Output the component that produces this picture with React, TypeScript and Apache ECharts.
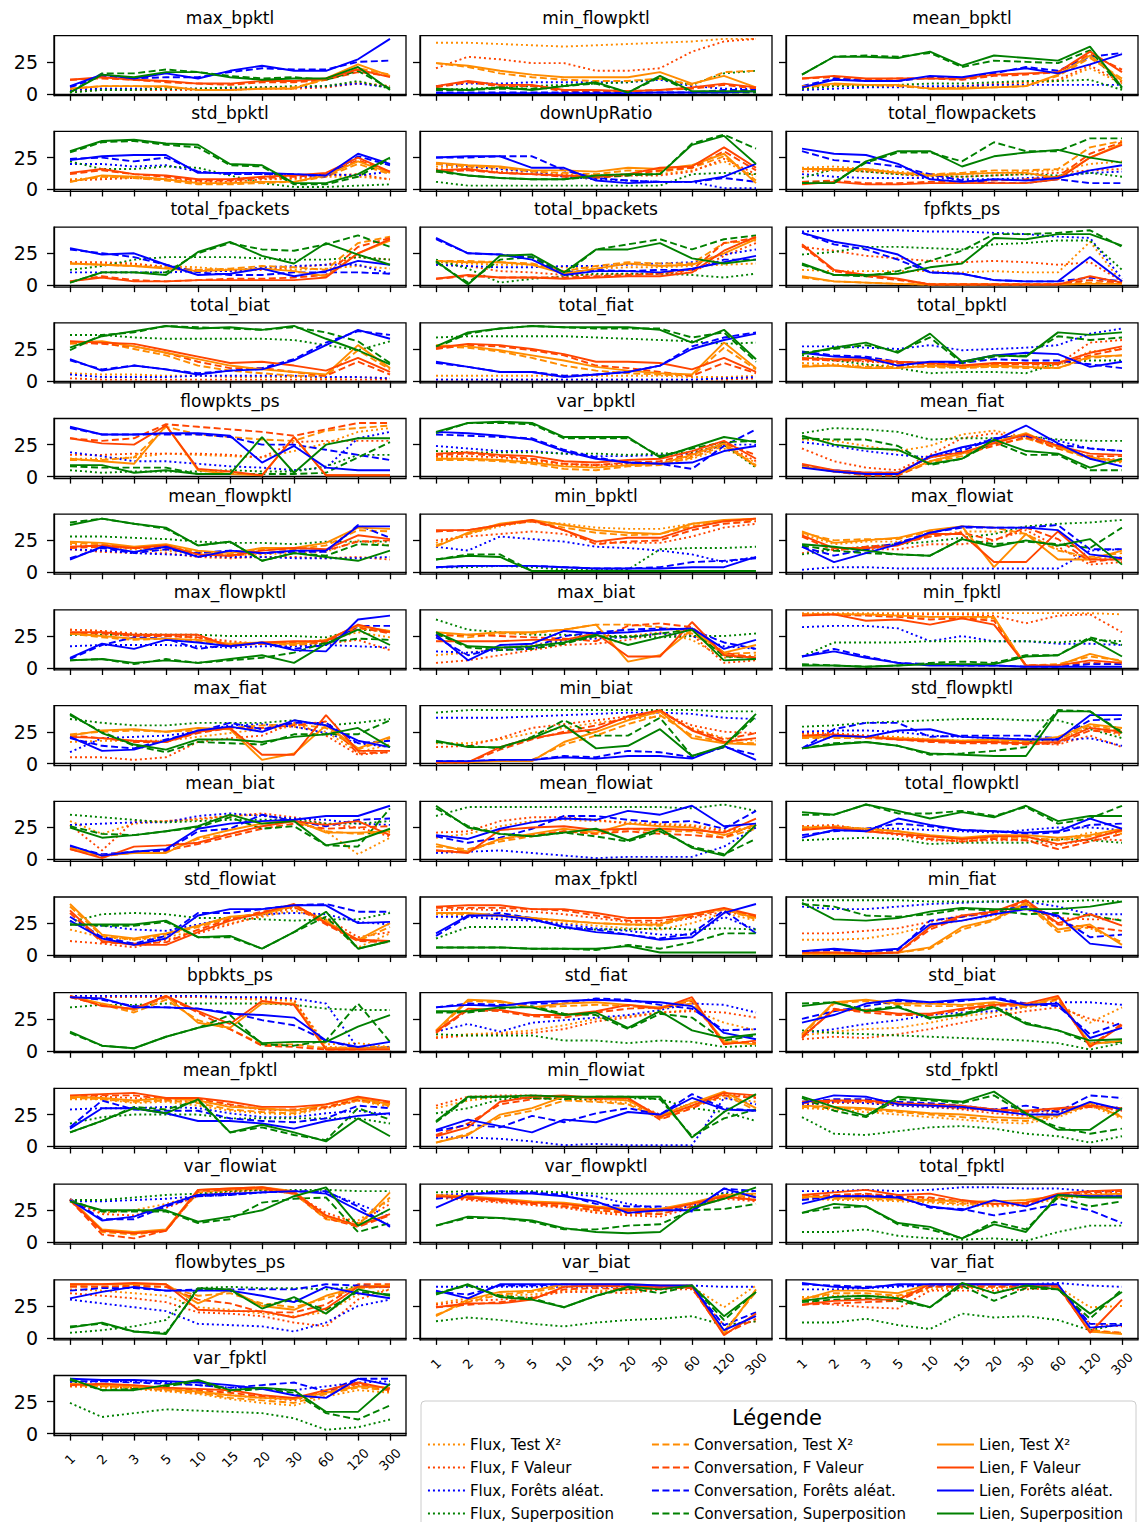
import React, { useEffect, useRef } from 'react';
import * as echarts from 'echarts';

// ---------- categories / labels ----------
const categories = ['1', '2', '3', '5', '10', '15', '20', '30', '60', '120', '300'];
const yTicks = [0, 25];
const methods = ['Flux', 'Conversation', 'Lien'];
const selectors = ['Test X²', 'F Valeur', 'Forêts aléat.', 'Superposition'];

// Each panel: 12 series in order
// Flux X2, Flux F, Flux RF, Flux Sup, Conv X2, Conv F, Conv RF, Conv Sup, Lien X2, Lien F, Lien RF, Lien Sup
const max_bpktl = [
  [3,4,4,4,4,4,5,5,6,9,6],[2,3,3,3,3,3,4,4,5,8,6],[3,4,4,4,4,4,5,5,6,8,5],[1,3,3,4,4,5,5,6,6,10,4],
  [4,6,6,5,3,3,4,5,11,20,15],[11,12,11,9,8,7,9,9,11,17,14],[5,14,12,13,13,17,20,19,19,25,26],[1,16,16,19,17,14,12,13,11,18,4],
  [4,6,6,6,3,3,4,4,12,23,14],[11,13,11,10,8,8,10,10,12,19,13],[6,15,12,16,12,18,22,18,18,27,43],[1,15,13,17,17,13,11,12,12,21,3],
];
const min_flowpktl = [
  [40,40,39,38,37,38,39,40,41,43,43],[20,29,27,24,24,18,18,20,33,41,43],[6,8,8,9,9,9,9,11,6,4,4],[3,4,5,6,7,8,9,12,7,16,18],
  [24,21,16,13,11,10,10,12,7,17,18],[5,9,6,6,2,2,2,3,4,7,4],[1,1,1,1,1,1,1,1,1,3,3],[3,3,4,4,6,8,1,13,1,1,1],
  [24,22,18,15,13,13,13,17,8,14,5],[6,10,7,7,3,3,2,3,5,8,5],[0.5,0.5,0.5,0.5,0.5,0.5,0.5,1,1,1,2],[4,3,5,3,6,9,1,14,2,2,2],
];
const mean_bpktl = [
  [5,6,6,6,5,5,7,8,10,20,8],[5,6,6,6,5,6,8,9,11,22,9],[3,4,5,5,6,6,7,7,7,7,7],[4,6,6,7,8,8,9,10,10,11,3],
  [5,7,7,6,4,5,5,6,14,28,12],[12,13,11,12,12,11,14,15,17,31,19],[6,12,10,10,13,12,16,21,18,29,32],[15,29,30,29,32,21,26,25,24,34,4],
  [6,8,7,7,4,4,5,6,15,30,10],[12,14,12,12,12,12,15,16,17,33,17],[5,11,10,10,14,13,17,20,16,23,31],[15,29,29,28,33,22,30,28,26,37,5],
];
const std_bpktl = [
  [8,9,10,8,6,6,8,8,10,10,8],[7,8,9,8,6,6,8,9,11,12,8],[20,20,18,19,14,12,12,11,12,11,14],[22,16,16,18,17,11,5,2,2,3,4],
  [6,10,9,7,4,4,5,6,10,20,12],[12,15,12,10,7,7,9,10,12,23,14],[24,25,22,25,14,12,12,12,10,26,19],[29,37,38,35,33,19,18,4,4,10,24],
  [6,11,10,8,5,5,6,6,11,22,13],[13,16,12,11,8,8,10,11,13,25,14],[23,26,27,27,13,13,13,12,11,28,20],[30,38,39,36,35,20,19,5,5,12,25],
];
const downUpRatio = [
  [18,17,16,14,12,11,12,12,15,22,10],[16,15,14,12,11,10,11,11,14,24,12],[20,18,16,14,10,8,7,6,6,1,1],[6,3,3,3,3,3,3,3,12,13,12],
  [20,18,17,14,13,12,15,14,17,26,7],[14,15,13,12,10,9,11,15,17,30,15],[25,25,26,26,15,9,7,6,6,9,6],[14,11,9,8,8,10,11,12,36,43,32],
  [21,19,18,15,15,14,17,16,19,28,5],[15,16,13,12,11,10,12,17,18,33,17],[25,26,26,17,17,7,5,6,6,10,20],[15,11,9,8,8,11,12,12,35,42,20],
];
const total_flowpackets = [
  [17,18,16,14,12,12,13,14,15,20,22],[14,15,14,12,10,10,11,12,13,15,16],[12,10,9,9,9,8,8,9,10,13,14],[9,16,14,12,11,10,11,12,11,13,10],
  [16,15,15,13,12,13,15,15,16,33,38],[6,7,5,5,6,6,7,8,10,28,37],[30,23,21,18,12,7,5,5,8,5,5],[5,6,21,29,29,22,37,30,30,40,40],
  [16,16,16,13,11,12,13,13,9,25,36],[4,6,4,4,5,5,5,5,8,25,35],[32,28,27,20,8,6,8,7,9,15,19],[5,5,22,30,30,18,26,29,31,25,21],
];
const total_fpackets = [
  [18,17,16,15,14,12,13,12,13,15,13],[18,18,17,14,12,11,12,14,16,22,20],[10,10,10,10,11,11,14,15,16,16,9],[12,15,20,22,22,22,21,20,20,22,20],
  [17,16,15,14,12,13,15,14,12,33,38],[3,7,4,3,4,5,5,6,8,30,37],[28,25,22,16,10,8,8,10,10,10,9],[2,10,10,10,25,33,28,27,32,39,30],
  [17,16,15,13,11,12,13,11,7,25,35],[3,6,3,3,4,4,4,4,6,25,36],[29,24,25,16,8,9,13,7,11,19,16],[2,10,10,8,26,34,23,17,33,24,16],
];
const total_bpackets = [
  [18,17,16,16,14,13,14,14,15,16,17],[16,15,11,10,8,8,9,9,10,23,33],[16,15,14,14,15,15,16,17,18,24,28],[20,13,2,5,7,9,9,9,8,6,9],
  [19,19,18,17,11,15,18,17,17,33,35],[5,7,6,6,6,7,8,9,12,33,37],[36,25,24,22,10,12,11,12,12,20,20],[18,2,20,22,8,28,32,36,28,36,39],
  [19,18,18,16,9,13,17,15,16,25,36],[5,8,6,6,5,6,7,7,10,27,38],[37,25,24,20,8,11,11,10,13,18,23],[19,0.5,23,24,10,28,28,33,21,17,20],
];
const fpfkts_ps = [
  [12,11,11,11,11,10,11,10,10,34,2],[30,27,23,21,19,18,19,18,16,18,3],[42,43,43,43,42,42,41,40,38,37,5],[24,26,30,30,29,28,32,33,35,35,12],
  [6,3,2,1,0.5,0.5,0.5,0.5,1,2,1],[31,11,7,4,1,1,1,1,1,4,2],[41,32,28,20,10,9,4,3,3,6,3],[16,8,7,11,19,27,40,40,41,43,30],
  [7,3,2,1,0.5,0.5,0.5,0.5,0.5,1,1],[32,12,8,5,0.5,0.5,0.5,0.5,0.5,7,2],[41,34,30,24,10,9,4,3,3,22,3],[17,8,8,9,14,17,37,36,40,40,31],
];
const total_biat = [
  [6,5,5,4,4,3,3,3,2,3,2],[2,1,1,1,1,1,1,1,1,1,1],[5,3,3,3,4,4,4,4,3,3,2],[36,36,34,33,33,33,33,32,28,24,31],
  [29,30,25,20,12,8,6,4,4,24,9],[30,29,27,22,15,10,10,7,4,15,5],[16,9,12,9,6,8,10,17,30,39,36],[24,36,38,43,42,41,40,42,38,31,14],
  [30,31,27,22,17,12,9,7,5,28,10],[31,30,29,24,19,14,15,12,8,18,7],[17,8,12,9,5,8,9,16,28,40,33],[26,35,39,43,41,42,40,43,33,24,13],
];
const total_fiat = [
  [4,4,4,4,4,4,4,4,3,3,4],[1,1,1,1,1,1,1,1,1,1,2],[1,1,1,1,1,1,1,1,1,2,3],[34,35,35,35,35,34,33,32,31,29,30],
  [27,26,23,18,12,8,6,5,4,26,9],[25,28,27,24,20,12,10,7,4,14,6],[14,11,7,7,4,5,7,12,27,34,38],[26,37,41,43,42,41,41,41,34,38,15],
  [28,27,24,20,16,11,8,6,5,30,10],[26,29,28,25,21,15,15,14,9,18,7],[15,11,7,7,3,5,7,12,25,32,37],[27,38,41,43,42,42,42,40,30,40,17],
];
const total_bpktl = [
  [14,13,12,12,11,11,11,11,12,23,25],[17,16,15,14,13,12,13,13,13,30,32],[27,27,26,25,28,24,25,26,28,37,41],[20,16,13,10,6,7,7,6,14,16,16],
  [12,12,11,11,11,10,11,10,10,18,20],[17,16,16,14,13,11,13,13,13,20,25],[23,20,19,15,14,14,17,16,16,13,10],[22,25,28,23,34,14,19,20,35,32,34],
  [11,12,10,10,12,11,12,11,10,19,20],[18,17,17,15,14,12,14,14,14,22,27],[22,19,18,12,15,15,20,22,21,11,15],[21,26,30,22,37,15,20,19,38,36,38],
];
const flowpkts_ps = [
  [14,14,15,18,17,16,15,20,26,35,38],[17,17,18,18,18,17,15,27,28,28,28],[19,16,12,12,10,8,7,5,7,30,35],[5,3,4,4,4,5,4,4,8,17,17],
  [13,13,15,39,33,31,29,28,36,38,40],[30,28,30,41,39,37,35,32,37,42,42],[38,33,33,33,33,31,25,25,21,17,13],[8,7,7,7,2,2,2,2,3,15,27],
  [14,12,10,40,5,2,1,31,1,1,1],[30,26,25,40,6,4,1,31,1,1,1],[39,33,33,34,34,32,11,24,7,5,5],[9,9,3,5,2,2,31,3,25,30,30],
];
const var_bpktl = [
  [15,14,13,12,9,8,9,10,14,22,11],[16,16,15,13,10,9,10,11,16,25,12],[24,22,20,20,18,16,16,17,18,25,25],[20,19,19,19,18,18,17,18,19,25,7],
  [13,13,12,10,6,5,8,9,15,24,9],[17,18,16,14,10,9,11,12,18,26,17],[33,32,31,30,21,15,11,10,6,24,37],[34,42,42,41,30,30,30,16,22,27,28],
  [14,14,13,11,8,7,9,10,17,26,8],[18,19,17,16,12,11,13,14,20,28,14],[35,34,32,29,20,14,11,10,11,20,24],[35,42,43,42,31,31,31,15,23,31,27],
];
const mean_fiat = [
  [29,28,24,20,24,33,36,31,24,14,11],[22,12,7,5,17,30,34,30,24,15,13],[27,24,20,17,15,22,30,32,28,22,20],[34,38,37,35,29,30,30,32,29,28,28],
  [8,4,1,1,11,16,25,30,22,14,12],[9,4,1,1,12,18,24,31,22,16,16],[8,5,3,3,15,20,30,32,25,22,20],[30,29,29,24,9,14,27,17,17,5,5],
  [8,4,2,2,12,18,27,34,23,15,12],[10,5,3,3,15,19,26,33,24,18,17],[7,4,2,2,16,23,28,40,26,14,8],[32,25,22,21,10,14,29,20,18,7,14],
];
const mean_flowpktl = [
  [22,20,18,17,14,13,14,15,16,25,21],[18,16,15,15,12,11,12,12,11,12,10],[18,17,15,14,13,12,12,11,11,11,12],[28,28,27,26,24,23,23,22,24,24,24],
  [23,22,19,20,16,14,18,18,21,33,32],[19,20,19,19,14,13,15,17,17,24,25],[11,19,15,18,15,17,15,16,16,37,27],[39,42,38,34,21,24,9,15,13,22,21],
  [24,23,20,22,17,15,19,19,23,35,34],[20,21,19,21,14,13,17,19,18,29,26],[10,20,16,20,12,17,15,17,17,36,36],[37,42,38,35,21,24,9,15,12,9,17],
];
const min_bpktl = [
  [23,30,36,40,38,35,34,34,38,40,42],[25,28,30,32,30,24,23,23,28,35,38],[20,17,28,26,24,20,19,17,14,8,12],[4,4,5,4,2,2,2,18,19,19,20],
  [21,30,37,40,35,31,29,30,36,40,41],[32,33,37,40,33,22,24,25,33,38,40],[4,5,5,5,4,3,3,4,8,9,11],[10,14,14,1,1,1,1,1,1,1,1],
  [20,31,38,41,37,33,31,30,38,41,42],[33,33,37,41,33,24,27,27,35,40,42],[4,5,5,5,4,3,3,3,4,4,12],[10,13,12,1,1,1,1,1,1,1,1],
];
const max_flowiat = [
  [30,22,24,24,28,32,32,30,18,10,12],[15,18,18,18,22,22,25,33,20,6,8],[2,4,4,3,3,3,3,3,3,17,18],[14,18,20,22,24,27,30,36,38,39,41],
  [31,25,26,26,32,36,35,30,17,12,15],[28,17,20,22,28,31,25,35,26,8,11],[20,13,18,23,31,35,35,35,37,18,18],[21,17,15,14,13,26,22,24,22,19,35],
  [32,23,25,27,33,36,4,30,10,10,17],[29,19,19,21,30,30,8,8,32,10,10],[20,8,15,22,31,36,35,35,33,14,11],[22,20,17,14,13,26,20,25,21,26,6],
];
const max_flowpktl = [
  [30,29,27,26,23,20,19,20,22,28,24],[30,29,27,25,24,21,19,18,19,22,14],[17,18,18,18,17,16,17,17,18,17,16],[26,26,26,26,26,25,25,25,24,30,29],
  [27,24,22,23,21,18,19,18,20,31,28],[27,27,25,25,24,18,19,20,20,32,27],[7,18,24,23,15,18,20,15,18,33,33],[6,7,3,7,4,6,8,12,20,23,22],
  [27,25,23,23,22,19,20,19,22,33,29],[28,28,26,26,26,17,20,21,21,34,28],[8,19,15,22,20,17,20,14,13,38,41],[6,7,4,6,4,7,10,4,19,30,18],
];
const max_biat = [
  [10,12,15,18,22,24,25,28,22,8,10],[4,6,10,14,18,19,22,27,26,4,6],[13,12,14,15,22,23,24,27,25,17,15],[38,30,28,26,26,25,25,24,25,25,27],
  [27,24,27,27,30,34,34,32,27,11,12],[25,26,25,24,23,21,33,35,32,12,8],[24,10,16,16,25,28,30,31,30,20,15],[27,16,14,15,19,25,24,27,30,9,8],
  [28,26,28,28,30,34,5,10,30,12,18],[21,21,21,22,22,27,9,9,36,10,8],[26,6,18,19,29,27,28,30,31,15,22],[28,17,16,17,20,26,18,24,30,6,7],
];
const min_fpktl = [
  [43,43,43,43,43,43,43,43,43,43,42],[42,42,42,42,42,42,41,35,41,42,28],[32,33,33,31,21,25,21,21,19,19,18],[9,20,20,20,21,21,21,21,20,22,21],
  [42,42,42,41,40,40,39,2,3,9,6],[42,42,41,40,38,39,37,2,2,4,3],[9,15,9,4,3,2,2,1,1,3,3],[3,2,1,2,4,5,4,10,10,24,18],
  [42,42,42,41,40,40,40,1,2,11,5],[41,42,37,38,34,39,34,2,2,6,4],[9,13,8,4,2,2,2,1,1,1,1],[2,2,1,2,3,3,3,9,10,23,9],
];
const max_fiat = [
  [17,18,18,18,21,24,27,29,25,9,15],[5,5,3,5,17,20,22,32,22,7,9],[9,20,21,22,25,30,31,29,24,16,13],[35,32,30,30,32,32,32,34,30,32,35],
  [23,25,26,25,26,28,30,31,28,11,20],[22,20,17,17,24,28,28,30,33,8,9],[20,14,12,19,25,32,27,32,32,16,18],[38,25,14,9,17,16,15,23,23,23,34],
  [22,26,27,25,28,27,3,8,30,12,21],[21,20,18,17,25,28,7,7,38,10,10],[21,10,11,18,26,29,25,34,30,18,13],[39,24,15,11,19,19,17,21,23,28,13],
];
const min_biat = [
  [16,16,19,24,28,32,35,37,28,20,18],[13,14,20,28,31,34,37,40,30,25,24],[36,36,36,37,38,39,40,40,39,36,35],[40,42,42,42,42,42,42,42,42,41,41],
  [1,2,2,3,15,22,31,38,22,17,16],[1,1,11,19,25,30,36,41,27,19,24],[2,2,3,3,6,5,10,9,5,13,7],[17,14,12,21,34,22,22,36,6,13,37],
  [1,1,2,2,17,25,34,41,20,16,15],[1,1,13,20,24,27,37,42,26,17,20],[2,2,3,3,5,4,6,6,4,14,3],[18,13,13,20,30,12,14,27,6,14,39],
];
const std_flowpktl = [
  [23,23,22,21,19,18,18,17,19,29,22],[24,24,22,20,18,17,17,16,15,22,13],[25,26,26,25,22,21,20,19,18,20,14],[29,30,32,33,34,35,35,34,34,27,20],
  [20,20,20,19,18,17,18,17,19,30,26],[21,22,21,19,17,16,16,15,16,26,24],[12,27,32,32,21,22,22,22,20,34,35],[12,16,17,14,7,8,10,13,42,41,25],
  [21,21,21,20,19,18,19,18,21,31,28],[22,23,21,19,18,17,17,16,17,28,25],[12,22,21,26,27,21,20,19,19,38,38],[12,15,17,14,8,7,6,6,41,41,24],
];
const mean_biat = [
  [30,20,28,30,31,34,35,30,22,4,17],[27,7,30,30,32,34,36,33,28,25,18],[27,28,29,29,34,36,34,32,31,28,27],[35,33,31,29,30,31,31,31,28,28,30],
  [9,3,5,6,16,20,26,30,22,20,21],[8,2,6,7,12,18,24,28,24,25,26],[10,4,6,7,22,24,35,30,26,31,32],[26,20,19,22,25,33,24,26,11,10,40],
  [9,3,5,5,17,23,28,31,21,21,22],[8,1,10,11,13,20,26,30,27,30,19],[11,3,6,8,24,28,30,31,34,34,42],[25,17,19,22,26,35,28,30,11,15,24],
];
const mean_flowiat = [
  [17,20,26,30,31,30,29,28,27,23,25],[21,22,30,33,33,31,28,27,26,22,25],[5,6,7,5,3,1,2,2,2,10,25],[34,41,41,41,41,41,41,41,40,43,38],
  [10,8,14,18,22,20,24,22,22,17,24],[7,6,16,19,22,20,22,20,19,17,28],[18,13,17,24,34,34,31,29,30,24,38],[40,26,20,18,21,18,14,22,10,4,16],
  [12,6,16,20,24,21,28,26,25,19,27],[7,5,23,25,26,23,24,24,23,21,32],[19,16,24,29,32,31,38,35,42,26,28],[42,25,20,18,21,24,15,24,9,3,27],
];
const total_flowpktl = [
  [26,26,23,20,16,15,17,17,15,21,20],[26,27,23,19,15,14,15,15,11,16,15],[25,25,24,24,23,22,21,23,25,25,23],[15,16,17,16,12,13,13,13,16,15,13],
  [25,26,24,22,18,16,17,17,15,18,22],[24,25,22,20,16,14,16,15,8,14,20],[19,22,24,28,26,23,22,20,21,27,28],[35,35,43,36,36,38,34,41,28,32,42],
  [25,25,24,22,19,17,19,19,17,19,24],[23,25,22,20,18,16,18,18,12,16,23],[17,23,22,32,27,23,22,21,22,32,24],[37,35,43,38,32,37,33,42,30,34,34],
];
const std_flowiat = [
  [20,14,12,14,19,25,30,35,28,6,17],[11,9,6,12,17,24,31,37,29,14,18],[24,23,20,19,24,29,32,33,32,26,24],[26,32,33,32,29,29,28,27,28,28,33],
  [38,15,12,16,22,29,32,38,27,11,22],[33,10,9,10,20,28,34,38,24,11,10],[30,14,9,15,33,33,36,39,40,34,34],[24,23,23,26,14,14,5,18,30,5,11],
  [40,16,13,17,23,30,32,39,26,12,25],[35,11,8,8,18,27,33,40,25,12,11],[27,13,8,13,31,36,36,39,39,25,26],[24,24,24,27,14,15,5,18,34,5,11],
];
const max_fpktl = [
  [32,31,30,28,25,23,21,20,25,33,27],[35,36,35,34,32,29,26,25,29,34,30],[30,30,28,27,24,21,19,16,16,30,20],[13,22,22,22,21,20,20,21,20,21,20],
  [33,32,31,29,27,25,24,23,31,36,28],[37,37,37,36,35,31,27,27,30,36,30],[15,30,33,29,22,20,16,13,17,35,17],[6,6,6,5,5,4,8,5,10,17,17],
  [33,33,31,29,27,25,24,24,32,36,29],[38,39,39,36,36,33,29,29,32,37,31],[17,31,31,28,22,18,16,12,14,33,40],[6,6,6,5,5,5,7,2,2,2,2],
];
const min_fiat = [
  [12,12,13,17,23,27,31,36,25,21,10],[17,17,19,21,26,31,33,39,29,28,28],[38,36,36,38,40,41,42,42,38,32,32],[43,43,43,43,42,42,42,42,42,43,42],
  [1,1,1,2,5,20,27,40,18,22,10],[2,2,2,2,20,30,33,42,24,22,19],[3,4,3,4,27,30,35,38,30,14,16],[40,38,31,30,32,36,35,32,33,31,27],
  [1,1,1,2,6,22,28,41,20,24,8],[2,2,1,2,22,31,34,43,25,32,23],[3,5,3,5,24,27,32,36,31,9,6],[41,28,27,29,34,37,36,36,36,38,42],
];
const bpbkts_ps = [
  [43,42,42,42,42,41,40,39,5,6,3],[43,42,42,42,42,42,41,40,3,2,2],[43,43,43,43,43,42,42,41,37,2,3],[34,36,36,37,37,37,37,36,33,32,32],
  [42,36,30,40,24,17,5,5,2,3,3],[42,36,32,42,30,17,4,3,1,1,2],[42,40,35,34,33,30,24,20,8,2,2],[14,4,2,11,18,28,5,4,8,37,7],
  [43,37,32,43,22,18,37,37,2,2,2],[43,35,33,43,31,21,39,36,1,1,1],[42,41,34,34,33,29,28,26,8,3,7],[15,4,2,11,18,23,6,7,7,19,28],
];
const std_fiat = [
  [11,13,14,16,20,25,27,30,32,22,16],[10,12,13,14,17,23,26,30,31,30,26],[15,21,15,22,24,26,28,32,37,36,30],[13,12,12,12,8,8,6,8,7,3,4],
  [15,39,38,34,35,36,35,33,37,8,6],[14,32,31,27,26,30,33,34,39,6,6],[34,37,36,37,37,41,40,36,33,16,17],[30,30,33,35,29,28,17,29,26,8,12],
  [16,40,39,34,37,38,36,34,40,7,5],[15,33,32,28,28,31,36,33,42,5,8],[34,36,35,38,39,40,39,38,35,14,9],[31,31,34,34,28,30,18,31,16,10,13],
];
const std_biat = [
  [12,15,17,18,22,27,30,34,37,22,34],[9,11,10,13,17,22,27,31,34,25,20],[14,17,21,24,28,30,31,35,38,38,36],[16,14,13,12,11,10,9,8,6,1,6],
  [12,37,39,36,35,35,37,34,40,6,7],[10,33,30,28,28,32,35,36,41,4,21],[25,31,35,39,37,39,42,37,35,13,22],[37,38,32,35,25,29,35,22,16,6,7],
  [13,38,40,37,37,36,38,35,42,5,8],[11,32,32,29,29,33,36,37,43,3,20],[22,28,37,40,38,40,41,36,37,10,18],[35,38,31,34,26,28,34,21,16,8,9],
];
const mean_fpktl = [
  [37,37,34,35,32,28,26,25,30,36,31],[38,39,38,36,35,32,29,28,30,36,33],[29,30,30,31,30,26,23,23,26,28,25],[18,23,25,25,25,22,22,22,22,22,18],
  [38,37,35,36,34,29,27,26,31,36,32],[39,40,40,37,37,33,29,29,31,37,34],[15,36,29,28,28,22,20,19,22,32,30],[11,20,31,29,36,11,15,9,5,30,21],
  [39,38,36,38,36,31,30,28,33,38,33],[40,41,42,38,38,35,31,31,33,39,35],[14,30,30,26,20,20,18,14,20,24,26],[11,20,30,26,37,11,17,11,4,22,8],
];
const min_flowiat = [
  [30,36,39,38,37,36,34,23,32,38,35],[32,39,40,40,39,38,36,25,34,41,39],[7,7,6,4,1,2,1,1,1,38,33],[26,30,37,38,37,37,38,37,30,27,20],
  [3,10,23,28,36,35,33,22,31,41,28],[9,18,33,37,39,37,37,21,30,40,38],[12,17,15,24,19,26,30,25,41,30,28],[19,38,39,38,37,39,39,37,8,22,29],
  [3,9,25,30,39,38,36,24,34,43,30],[8,15,35,39,40,38,38,23,32,42,40],[13,21,16,11,21,19,27,25,38,29,28],[20,39,39,40,39,39,39,39,7,27,41],
];
const std_fpktl = [
  [30,29,27,25,23,21,19,18,23,32,22],[33,34,34,32,31,29,26,24,27,31,28],[33,35,34,32,31,30,29,27,28,33,30],[23,10,9,12,15,16,14,10,8,3,8],
  [31,30,29,27,25,23,21,20,24,33,24],[34,35,35,33,32,30,28,27,29,31,29],[35,37,37,35,34,32,29,32,27,40,38],[38,28,23,37,36,34,40,25,15,10,14],
  [32,31,30,28,26,25,23,22,25,34,23],[35,36,36,34,33,32,29,28,30,32,30],[34,40,39,33,32,31,28,25,25,35,29],[39,31,24,39,37,35,43,26,13,13,30],
];
const var_flowiat = [
  [32,23,25,30,37,40,41,38,20,17,33],[33,22,21,27,36,39,41,38,23,15,30],[32,32,33,34,36,37,39,40,39,30,20],[33,33,35,37,38,40,41,41,41,40,40],
  [33,8,6,9,39,41,42,38,18,14,35],[33,6,3,9,40,41,42,38,19,12,21],[34,18,18,28,36,37,39,40,40,28,12],[33,24,24,24,15,18,31,34,35,8,15],
  [34,10,8,10,41,42,43,40,20,13,39],[33,9,7,9,41,42,43,39,21,13,22],[33,17,20,29,37,38,39,40,38,25,13],[32,25,25,25,16,20,25,36,43,13,26],
];
const var_flowpktl = [
  [36,35,33,30,28,24,22,22,29,35,35],[35,33,31,29,27,23,21,20,27,34,32],[37,38,39,39,38,36,30,26,28,39,40],[39,40,40,40,39,38,38,38,38,38,37],
  [36,35,33,31,29,26,24,24,30,36,36],[36,34,32,30,28,25,23,22,28,35,33],[34,37,40,39,37,30,28,28,24,42,40],[13,19,19,16,10,10,13,14,25,26,30],
  [37,36,34,32,31,28,26,26,31,37,38],[36,35,33,31,30,27,25,25,30,36,33],[27,38,38,38,36,32,23,25,25,42,35],[13,20,19,17,11,8,7,8,27,34,43],
];
const total_fpktl = [
  [34,33,33,32,31,29,28,29,34,36,36],[35,36,37,35,34,31,29,29,36,38,39],[40,40,41,40,41,43,43,42,42,40,40],[8,8,10,5,3,2,3,1,8,13,13],
  [35,34,34,33,32,30,30,31,35,37,37],[36,37,38,36,35,32,30,30,37,39,40],[33,36,36,36,27,26,21,25,30,25,15],[23,27,28,14,10,3,16,10,35,28,32],
  [36,35,35,34,33,32,32,33,36,37,38],[37,39,41,37,38,33,30,31,38,40,41],[30,36,36,35,28,25,33,28,37,36,36],[23,30,28,15,12,3,14,8,37,35,35],
];
const flowbytes_ps = [
  [38,37,35,33,24,22,19,17,20,34,38],[35,33,31,28,20,19,17,12,9,30,38],[30,27,24,21,11,10,9,5,12,25,30],[4,6,9,14,39,40,39,39,38,40,40],
  [41,40,40,40,33,35,27,24,31,39,40],[40,40,41,40,30,27,20,20,26,42,42],[37,39,39,37,38,38,38,38,42,41,40],[9,11,5,4,38,37,25,30,22,36,34],
  [42,42,42,42,27,38,25,22,33,40,41],[42,42,43,42,22,21,21,16,23,40,40],[31,36,40,37,37,37,33,28,40,35,31],[8,12,5,3,39,38,23,32,19,38,33],
];
const var_biat = [
  [27,31,33,34,37,37,37,38,40,24,41],[26,29,30,32,36,36,35,38,38,10,13],[40,40,40,40,40,40,40,40,41,40,40],[13,16,14,11,9,12,14,15,17,10,13],
  [18,28,34,36,40,41,40,40,40,5,36],[24,26,28,31,38,39,38,39,39,3,15],[36,34,41,41,42,41,41,40,40,10,20],[35,41,33,31,24,33,39,35,41,14,36],
  [17,30,36,37,42,42,42,41,41,3,38],[24,27,27,30,40,41,40,40,40,2,19],[37,31,42,42,42,42,42,41,41,6,17],[34,42,32,30,24,33,40,38,41,17,36],
];
const var_fiat = [
  [32,33,33,32,38,39,39,40,40,24,25],[29,26,24,23,37,37,37,38,39,11,9],[38,38,39,40,41,41,42,42,43,41,40],[12,12,15,10,7,19,16,17,14,6,11],
  [30,35,35,33,40,41,41,41,40,6,4],[26,27,28,29,40,40,40,40,40,5,4],[42,41,40,41,41,42,42,41,41,11,11],[28,30,31,29,24,41,29,39,38,15,38],
  [30,37,37,35,42,42,42,42,41,5,3],[26,29,30,30,42,42,42,42,41,4,30],[43,40,39,42,42,42,42,42,42,8,10],[29,32,33,31,24,43,35,41,38,19,36],
];
const var_fpktl = [
  [37,36,35,33,31,27,24,22,29,34,32],[37,37,36,34,32,30,28,26,32,38,33],[40,41,41,40,38,36,35,34,37,40,41],[24,13,16,19,18,17,16,12,3,5,11],
  [38,37,36,34,32,28,26,24,31,36,34],[38,38,37,35,34,32,29,27,33,39,34],[41,41,40,39,38,36,38,40,33,43,43],[42,34,35,37,41,33,35,32,16,11,22],
  [39,38,37,35,33,30,28,27,32,37,36],[38,39,38,36,35,34,30,28,34,40,35],[43,42,42,41,40,38,35,30,28,43,38],[43,34,34,38,42,34,36,34,17,17,39],
];

const panels: [string, number[][]][] = [
  ['max_bpktl', max_bpktl], ['min_flowpktl', min_flowpktl], ['mean_bpktl', mean_bpktl],
  ['std_bpktl', std_bpktl], ['downUpRatio', downUpRatio], ['total_flowpackets', total_flowpackets],
  ['total_fpackets', total_fpackets], ['total_bpackets', total_bpackets], ['fpfkts_ps', fpfkts_ps],
  ['total_biat', total_biat], ['total_fiat', total_fiat], ['total_bpktl', total_bpktl],
  ['flowpkts_ps', flowpkts_ps], ['var_bpktl', var_bpktl], ['mean_fiat', mean_fiat],
  ['mean_flowpktl', mean_flowpktl], ['min_bpktl', min_bpktl], ['max_flowiat', max_flowiat],
  ['max_flowpktl', max_flowpktl], ['max_biat', max_biat], ['min_fpktl', min_fpktl],
  ['max_fiat', max_fiat], ['min_biat', min_biat], ['std_flowpktl', std_flowpktl],
  ['mean_biat', mean_biat], ['mean_flowiat', mean_flowiat], ['total_flowpktl', total_flowpktl],
  ['std_flowiat', std_flowiat], ['max_fpktl', max_fpktl], ['min_fiat', min_fiat],
  ['bpbkts_ps', bpbkts_ps], ['std_fiat', std_fiat], ['std_biat', std_biat],
  ['mean_fpktl', mean_fpktl], ['min_flowiat', min_flowiat], ['std_fpktl', std_fpktl],
  ['var_flowiat', var_flowiat], ['var_flowpktl', var_flowpktl], ['total_fpktl', total_fpktl],
  ['flowbytes_ps', flowbytes_ps], ['var_biat', var_biat], ['var_fiat', var_fiat],
  ['var_fpktl', var_fpktl],
];

// ---------- styling ----------
const FONT = 'DejaVu Sans';
const selectorColors = ['#FF8C00', '#FF4500', '#0000FF', '#008000'];
const methodDash: any[] = [[2, 3], [7, 3.5], 'solid'];
const COL_LEFT = [54, 420, 786];
const PLOT_W = 352;
const PLOT_H = 60;
const ROW_TOP0 = 35.7;
const ROW_PITCH = 95.7;

function buildOption() {
  const grid: any[] = [];
  const xAxis: any[] = [];
  const yAxis: any[] = [];
  const series: any[] = [];
  const graphic: any[] = [];
  const n = panels.length;

  panels.forEach(([title, data], i) => {
    const row = Math.floor(i / 3);
    const col = i % 3;
    const left = COL_LEFT[col];
    const top = ROW_TOP0 + ROW_PITCH * row;
    const isBottom = i + 3 >= n;
    grid.push({
      left, top, width: PLOT_W, height: PLOT_H,
      show: true, borderColor: '#000', borderWidth: 1.3, backgroundColor: '#fff',
      containLabel: false,
    });
    xAxis.push({
      type: 'category', gridIndex: i, data: categories, boundaryGap: true,
      axisLine: { show: true, lineStyle: { color: '#000', width: 1.3 } },
      axisTick: { show: true, alignWithLabel: true, interval: 0, length: 7, lineStyle: { color: '#000', width: 1.3 } },
      axisLabel: {
        show: isBottom, interval: 0, rotate: 45, fontSize: 13, fontFamily: FONT, color: '#000',
        margin: 24, align: 'center', verticalAlign: 'middle',
      },
      splitLine: { show: false },
    });
    yAxis.push({
      type: 'value', gridIndex: i, min: -1.5, max: 45.5,
      axisLine: { show: true, lineStyle: { color: '#000', width: 1.3 } },
      axisTick: { show: true, customValues: yTicks, length: 7, lineStyle: { color: '#000', width: 1.3 } },
      axisLabel: { show: col === 0, customValues: yTicks, fontSize: 19, fontFamily: FONT, color: '#000', margin: 16 },
      splitLine: { show: false },
    });
    data.forEach((vals, k) => {
      const m = Math.floor(k / 4);
      const s = k % 4;
      const color = selectorColors[s];
      series.push({
        type: 'line',
        name: `${methods[m]}, ${selectors[s]}`,
        xAxisIndex: i, yAxisIndex: i,
        data: vals,
        symbol: 'none', silent: true,
        color,
        itemStyle: { color },
        lineStyle: { color, width: 1.9, type: methodDash[m] },
      });
    });
    graphic.push({
      type: 'text', x: left + PLOT_W / 2, y: top - 18, silent: true,
      style: { text: title, fontSize: 17, fontFamily: FONT, fill: '#000', align: 'center', verticalAlign: 'middle' },
    });
  });

  // legend frame and title
  graphic.push({
    type: 'rect', z: -1, silent: true,
    shape: { x: 421, y: 1401, width: 715, height: 140, r: 4 },
    style: { fill: '#ffffff', stroke: '#cccccc', lineWidth: 1 },
  });
  graphic.push({
    type: 'text', x: 777, y: 1418, silent: true,
    style: { text: 'Légende', fontSize: 21, fontFamily: FONT, fill: '#000', align: 'center', verticalAlign: 'middle' },
  });

  const legendLefts = [427, 651, 936];
  const legend = methods.map((m, mi) => ({
    orient: 'vertical', left: legendLefts[mi], top: 1437,
    itemWidth: 37, itemHeight: 14, itemGap: 8, padding: 0,
    selectedMode: false,
    itemStyle: { opacity: 0, color: 'rgba(0,0,0,0)', borderWidth: 0 },
    lineStyle: { width: 1.9 },
    textStyle: { fontSize: 15, fontFamily: FONT, color: '#000', lineHeight: 14 },
    data: selectors.map((s) => `${m}, ${s}`),
  }));

  return {
    animation: false,
    backgroundColor: '#fff',
    grid, xAxis, yAxis, series, graphic, legend,
  };
}

export default function App() {
  const ref = useRef<HTMLDivElement>(null);
  useEffect(() => {
    if (!ref.current) return;
    const chart = echarts.init(ref.current, undefined, { renderer: 'svg' });
    chart.setOption(buildOption() as any);
    return () => chart.dispose();
  }, []);
  return (
    <div
      ref={ref}
      style={{ position: 'absolute', left: 0, top: 0, width: 1142, height: 1522, background: '#fff' }}
    />
  );
}
